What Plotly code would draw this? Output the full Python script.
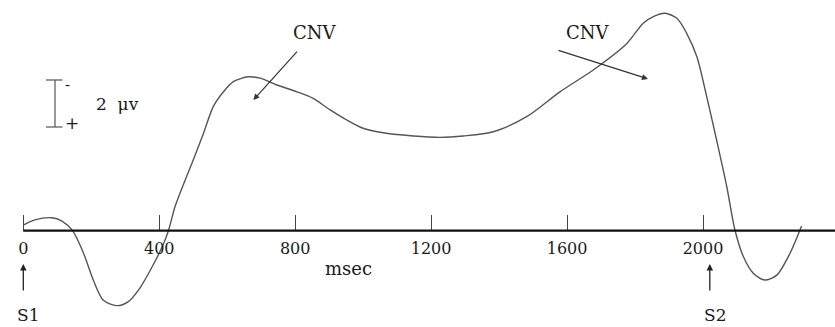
import plotly.graph_objects as go

# ---- data ----
time_ms = [0, 34, 84, 114, 145, 177, 206, 235, 275, 308, 343, 382, 411, 427, 446, 461,
           500, 530, 559, 589, 618, 662, 697, 746, 805, 853, 903, 952, 1000, 1050,
           1148, 1226, 1295, 1383, 1481, 1579, 1677, 1776, 1824, 1854, 1888, 1923,
           1952, 1982, 2011, 2040, 2070, 2094, 2119, 2148, 2182, 2217, 2256, 2290]
amp_uv = [-0.24, -0.46, -0.55, -0.41, 0.0, 0.95, 2.10, 2.95, 3.19, 3.03, 2.44, 1.46, 0.61, 0.0,
          -1.01, -1.59, -3.01, -4.14, -5.28, -5.91, -6.34, -6.55, -6.49, -6.20, -5.91, -5.63,
          -5.14, -4.71, -4.36, -4.19, -4.03, -3.97, -4.03, -4.21, -4.85, -5.91, -6.84, -7.97,
          -8.83, -9.11, -9.25, -9.04, -8.40, -7.40, -5.70, -3.86, -1.87, -0.03, 1.11, 1.81,
          2.10, 1.89, 0.96, -0.20]

tick_ms = [0, 400, 800, 1200, 1600, 2000]
tick_labels = ["0", "400", "800", "1200", "1600", "2000"]

stim_ms = [0, 2020]
stim_labels = ["S1", "S2"]

cnv_target_ms = [677, 1838]
cnv_target_uv = [-5.56, -6.46]
cnv_label = "CNV"

scale_uv = 2
scale_label = "2  \u03bcv"
x_title = "msec"

# ---- figure ----
W, H = 835, 327
px_per_ms = 0.33985
x0_px = 23.3
px_per_uv = 23.5
base_px = 230.7

x_range = [-x0_px / px_per_ms, (W - x0_px) / px_per_ms]
y_range = [(H - base_px) / px_per_uv, -base_px / px_per_uv]  # negative up

FONT = "DejaVu Serif"
TXT = "#1a1a1a"

fig = go.Figure()
fig.add_trace(go.Scatter(
    x=time_ms, y=amp_uv, mode="lines",
    line=dict(color="#555555", width=1.4, shape="spline", smoothing=0.8),
    hoverinfo="skip", showlegend=False,
))

fig.update_layout(
    width=W, height=H,
    margin=dict(l=0, r=0, t=0, b=0),
    paper_bgcolor="white", plot_bgcolor="white",
    showlegend=False,
    xaxis=dict(
        range=x_range, domain=[0, 1], anchor="free",
        position=1 - base_px / H,
        showgrid=False, zeroline=False, showline=False,
        ticks="inside", ticklen=16, tickwidth=1, tickcolor="#444444",
        tickvals=tick_ms, ticktext=tick_labels,
        tickfont=dict(family=FONT, size=16, color=TXT),
        ticklabelstandoff=6,
    ),
    yaxis=dict(
        range=y_range, domain=[0, 1],
        showgrid=False, zeroline=False, showline=False,
        showticklabels=False, ticks="",
    ),
)

# baseline (x axis line)
fig.add_shape(type="line", xref="x", yref="y",
              x0=0, x1=x_range[1], y0=0, y1=0,
              line=dict(color="#111111", width=2.2))

# scale bar (2 µV)
bar_x = 55 / W
cap = 7.5 / W
bar_bottom = (127 - base_px) / px_per_uv
bar_top = bar_bottom - scale_uv
fig.add_shape(type="line", xref="paper", yref="y",
              x0=bar_x, x1=bar_x, y0=bar_bottom, y1=bar_top,
              line=dict(color="#555555", width=1.2))
for yy in (bar_bottom, bar_top):
    fig.add_shape(type="line", xref="paper", yref="y",
                  x0=bar_x - cap * 1.2, x1=bar_x + cap, y0=yy, y1=yy,
                  line=dict(color="#555555", width=1.2))
fig.add_annotation(xref="paper", yref="y", x=(bar_x + 12.5 / W), y=bar_top + 0.2,
                   text="-", showarrow=False, xanchor="center", yanchor="middle",
                   font=dict(family=FONT, size=15, color=TXT))
fig.add_annotation(xref="paper", yref="y", x=(bar_x + 16.5 / W), y=bar_bottom - 0.15,
                   text="+", showarrow=False, xanchor="center", yanchor="middle",
                   font=dict(family=FONT, size=17, color=TXT))
fig.add_annotation(xref="paper", yref="y", x=94 / W, y=(bar_top + bar_bottom) / 2,
                   text=scale_label, showarrow=False, xanchor="left", yanchor="middle",
                   font=dict(family=FONT, size=17, color=TXT))

# x title
fig.add_annotation(xref="paper", yref="paper", x=348 / W, y=1 - 268 / H,
                   text=x_title, showarrow=False, xanchor="center", yanchor="middle",
                   font=dict(family=FONT, size=18, color=TXT))

# stimulus arrows and labels
for t, lab in zip(stim_ms, stim_labels):
    fig.add_annotation(x=t, y=1 - 264 / H, xref="x", yref="paper",
                       ax=0, ay=28, text="", showarrow=True,
                       arrowhead=2, arrowsize=1.0, arrowwidth=1.3, arrowcolor="#222222")
    fig.add_annotation(x=t + 15, y=1 - 315 / H, xref="x", yref="paper",
                       text=lab, showarrow=False, xanchor="center", yanchor="middle",
                       font=dict(family=FONT, size=17, color=TXT))

# CNV arrows and labels
cnv_tails = [(45, -50), (-91, -29)]
cnv_text_px = [(315, 32), (588, 32)]
for (t, v), (ax, ay), (tx, ty) in zip(zip(cnv_target_ms, cnv_target_uv), cnv_tails, cnv_text_px):
    fig.add_annotation(x=t, y=v, xref="x", yref="y", ax=ax, ay=ay, text="",
                       showarrow=True, arrowhead=2, arrowsize=1.0, arrowwidth=1.2,
                       arrowcolor="#333333")
    fig.add_annotation(xref="paper", yref="paper", x=tx / W, y=1 - ty / H,
                       text=cnv_label, showarrow=False, xanchor="center", yanchor="middle",
                       font=dict(family=FONT, size=18, color=TXT))

fig.write_html("out.html")
